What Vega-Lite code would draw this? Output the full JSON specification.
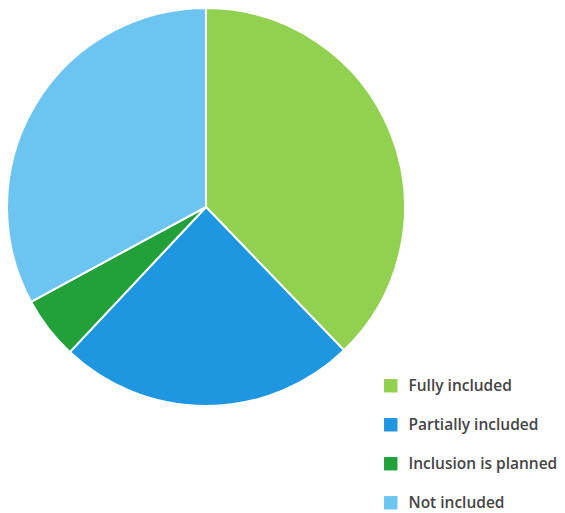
{
  "$schema": "https://vega.github.io/schema/vega-lite/v6.json",
  "width": 412,
  "height": 414,
  "autosize": {"type": "none"},
  "padding": {"left": 0, "top": 0, "right": 153, "bottom": 99},
  "background": "white",
  "data": {
    "values": [
      {"category": "Fully included", "share": 37.8, "order": 1},
      {"category": "Partially included", "share": 24.2, "order": 2},
      {"category": "Inclusion is planned", "share": 5.1, "order": 3},
      {"category": "Not included", "share": 32.9, "order": 4}
    ]
  },
  "mark": {"type": "arc", "outerRadius": 199, "stroke": "white", "strokeWidth": 2},
  "encoding": {
    "theta": {"field": "share", "type": "quantitative", "stack": true},
    "order": {"field": "order", "type": "quantitative"},
    "color": {
      "field": "category",
      "type": "nominal",
      "sort": ["Fully included", "Partially included", "Inclusion is planned", "Not included"],
      "scale": {
        "domain": ["Fully included", "Partially included", "Inclusion is planned", "Not included"],
        "range": ["#92d050", "#1e96e0", "#22a03a", "#6cc4f0"]
      },
      "legend": {
        "title": null,
        "orient": "none",
        "legendX": 383,
        "legendY": 378,
        "symbolType": "square",
        "symbolSize": 180,
        "symbolStrokeWidth": 0,
        "labelFont": "Open Sans",
        "labelFontSize": 15.5,
        "labelFontWeight": 600,
        "labelColor": "#454545",
        "labelOffset": 10,
        "rowPadding": 22,
        "labelLimit": 300
      }
    }
  },
  "config": {"view": {"stroke": null}}
}
